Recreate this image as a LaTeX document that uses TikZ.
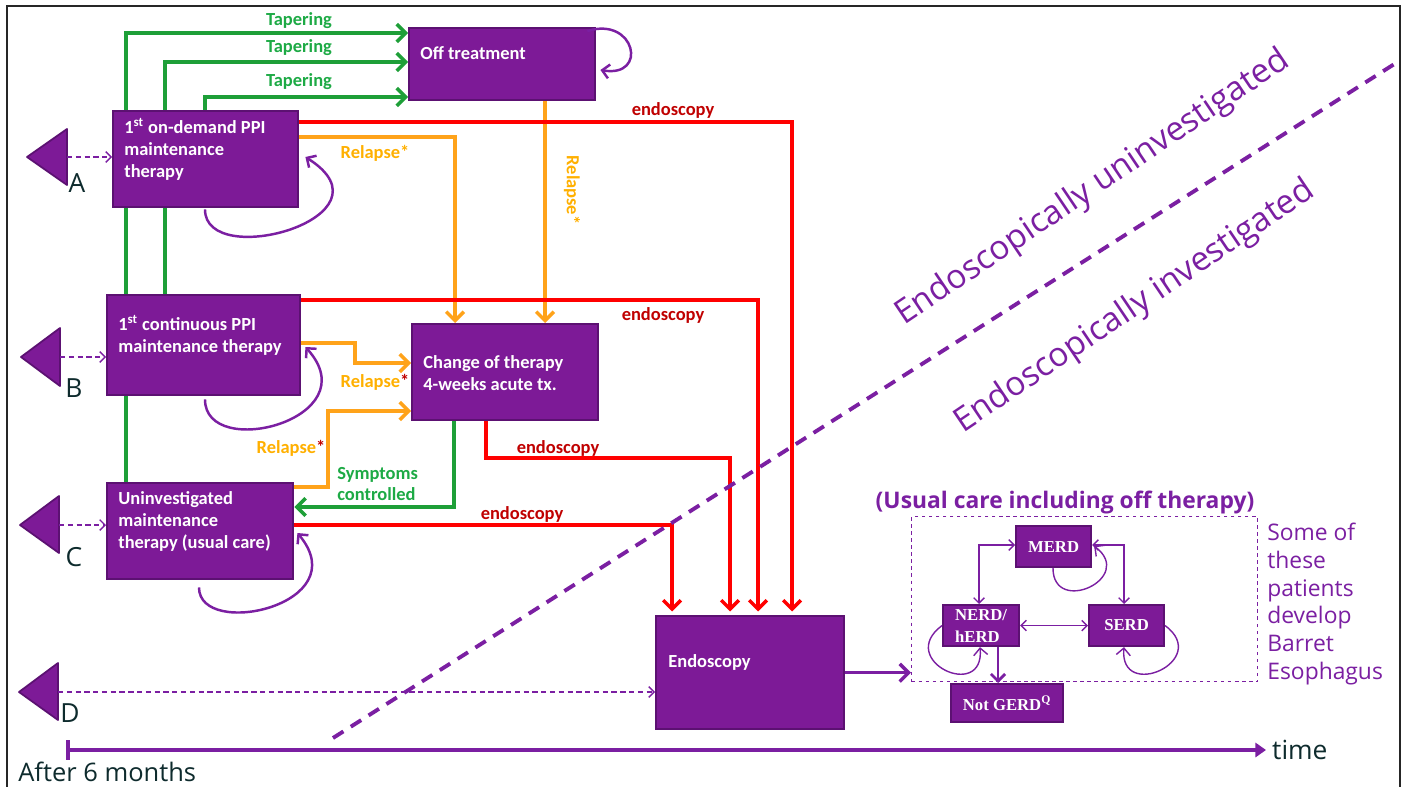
\documentclass[tikz,border=0pt]{standalone}
\usepackage{fontspec}
\setmainfont{Carlito}
\newfontfamily\opensans{Open Sans}
\newfontfamily\gerdfont{Liberation Serif}
\usepackage{xcolor}
\definecolor{BoxFill}{HTML}{7D1A97}
\definecolor{BoxLine}{HTML}{5C1172}
\definecolor{StatePurple}{HTML}{7B1FA2}
\definecolor{TaperGreen}{HTML}{1E9F38}
\definecolor{TaperText}{HTML}{1DAA45}
\definecolor{RelapseOrange}{HTML}{FFA31A}
\definecolor{RelapseText}{HTML}{FFB000}
\definecolor{EndoRed}{HTML}{FF0000}
\definecolor{EndoText}{HTML}{C00000}
\definecolor{LetterInk}{HTML}{0E2B2D}
\usepackage{tikz}
\usetikzlibrary{arrows.meta,backgrounds}

\begin{document}
\begin{tikzpicture}[x=0.02cm, y=-0.02cm,
	box/.style={draw=BoxLine, fill=BoxFill, line width=1.4pt, inner sep=0pt, anchor=north west},
	boxtext/.style={anchor=west, align=left, inner sep=0pt, text=white, font=\fontsize{10.5}{12.5}\selectfont\bfseries},
	statebox/.style={box, line width=1.2pt, text=white, align=left, font=\gerdfont\fontsize{9.5}{12.5}\selectfont\bfseries},
	taper/.style={TaperGreen, line width=2pt, -{Straight Barb[length=5pt,width=10pt]}},
	relapse/.style={RelapseOrange, line width=2pt, -{Straight Barb[length=5pt,width=10pt]}},
	toendo/.style={EndoRed, line width=2pt, shorten >=2pt, -{Straight Barb[length=5pt,width=10pt]}},
	entry/.style={StatePurple, line width=0.8pt, dash pattern=on 3pt off 2pt, -{Straight Barb[length=3pt,width=6pt]}},
	selfloop/.style={StatePurple, line width=1.4pt, -{Straight Barb[length=4pt,width=8pt]}},
	link/.style={StatePurple, line width=0.8pt, {Straight Barb[length=3pt,width=6pt]}-{Straight Barb[length=3pt,width=6pt]}},
	lbl/.style={font=\fontsize{10.5}{12.5}\selectfont\bfseries, inner sep=0pt},
	letter/.style={font=\opensans\fontsize{15}{18}\selectfont, text=LetterInk, inner sep=0pt},
	tri/.style={draw=BoxLine, fill=BoxFill, line width=1pt, line join=round}
	]
	\useasboundingbox (0,0) rectangle (1406,787);
	\draw[black!85, line width=1.2pt] (7,787) -- (7,6) -- (1400,6) -- (1400,787);

	\node[box, minimum width=3.72cm, minimum height=1.44cm] (offtr) at (408,27) {};
	\node[box, minimum width=3.70cm, minimum height=1.92cm] (ondemand) at (112,110) {};
	\node[box, minimum width=3.86cm, minimum height=2.00cm] (contin) at (106,294) {};
	\node[box, minimum width=3.72cm, minimum height=1.92cm] (change) at (411,323) {};
	\node[box, minimum width=3.72cm, minimum height=1.92cm] (uninv) at (106,482) {};
	\node[box, minimum width=3.76cm, minimum height=2.26cm] (endo) at (655,615) {};
	\node[boxtext] at ([shift={(12,-11)}]offtr.west) {Off treatment};
	\node[boxtext] at ([shift={(12,-10)}]ondemand.west) {1\textsuperscript{st} on-demand PPI\\maintenance\\therapy};
	\node[boxtext] at ([shift={(12,-10)}]contin.west) {1\textsuperscript{st} continuous PPI\\maintenance therapy};
	\node[boxtext] at ([shift={(12,1)}]change.west) {Change of therapy\\4-weeks acute tx.};
	\node[boxtext] at ([shift={(12,-10)}]uninv.west) {Uninvestigated\\maintenance\\therapy (usual care)};
	\node[boxtext] at ([shift={(13,-10)}]endo.west) {Endoscopy};

	\draw[tri] (67,129) -- (67,185) -- (27,157) -- cycle;
	\draw[tri] (60,328) -- (60,386) -- (21,357) -- cycle;
	\draw[tri] (59,496) -- (59,553) -- (20,525) -- cycle;
	\draw[tri] (58,663) -- (58,720) -- (19,692) -- cycle;
	\coordinate (tA) at (67,157);
	\coordinate (tB) at (60,357);
	\coordinate (tC) at (59,525);
	\coordinate (tD) at (58,692);
	\node[letter] at (77,183) {A};
	\node[letter] at (74,388) {B};
	\node[letter] at (74,557) {C};
	\node[letter] at (70,713) {D};
	\draw[entry] (tA) -- (tA -| ondemand.west);
	\draw[entry] (tB) -- (tB -| contin.west);
	\draw[entry] (tC) -- (tC -| uninv.west);
	\draw[entry] (tD) -- (tD -| endo.west);

	\coordinate (gOuter) at (126,33);
	\coordinate (gMid) at (165,62);
	\coordinate (gInner) at (205,97);
	\coordinate (gBack) at (454,507);
	\coordinate (oA) at (455,137);
	\coordinate (oB) at (545,200);
	\coordinate (oCa) at (355,343);
	\coordinate (oCb) at (355,363);
	\coordinate (oDa) at (328,487);
	\coordinate (oDb) at (328,411);
	\coordinate (rA) at (792,122);
	\coordinate (rB) at (758,300);
	\coordinate (rC) at (486,458);
	\coordinate (rCb) at (730,458);
	\coordinate (rD) at (672,525);
	\begin{pgfonlayer}{background}
		\fill[white] (0,0) rectangle (1406,787);
		\draw[taper] (uninv.north -| gOuter) |- (offtr.west |- gOuter);
		\draw[taper] (contin.north -| gMid) |- (offtr.west |- gMid);
		\draw[taper] (ondemand.north -| gInner) |- (offtr.west |- gInner);
		\draw[taper] (change.south -| gBack) |- (uninv.east |- gBack);
		\draw[relapse] (ondemand.east |- oA) -| (change.north -| oA);
		\draw[relapse] (offtr.south -| oB) -- (change.north -| oB);
		\draw[relapse] (contin.east |- oCa) -- (oCa) -- (oCb) -- (change.west |- oCb);
		\draw[relapse] (uninv.east |- oDa) -- (oDa) -- (oDb) -- (change.west |- oDb);
		\draw[toendo] (ondemand.east |- rA) -| (endo.north -| rA);
		\draw[toendo] (contin.east |- rB) -| (endo.north -| rB);
		\draw[toendo] (change.south -| rC) |- (rCb) -- (endo.north -| rCb);
		\draw[toendo] (uninv.east |- rD) -| (endo.north -| rD);
	\end{pgfonlayer}
	\node[lbl, text=TaperText] at (299,21) {Tapering};
	\node[lbl, text=TaperText] at (299,48) {Tapering};
	\node[lbl, text=TaperText] at (299,82) {Tapering};
	\node[lbl, text=TaperText, align=left, anchor=west] at (337,484) {Symptoms\\controlled};
	\node[lbl, text=RelapseText] at (375,153) {Relapse*};
	\node[lbl, text=RelapseText, rotate=-90] at (572,190) {Relapse*};
	\node[lbl, text=RelapseText] at (375,382) {Relapse{\color{EndoText}*}};
	\node[lbl, text=RelapseText] at (291,448) {Relapse{\color{EndoText}*}};
	\node[lbl, text=EndoText] at (673,110) {endoscopy};
	\node[lbl, text=EndoText] at (663,315) {endoscopy};
	\node[lbl, text=EndoText] at (558,448) {endoscopy};
	\node[lbl, text=EndoText] at (522,514) {endoscopy};

	\draw[selfloop] ([shift={(-9,4)}]offtr.north east) .. controls +(48,-15) and +(48,8) .. ([shift={(4,43)}]offtr.north east);
	\draw[selfloop] ([shift={(93,1)}]ondemand.south west) .. controls +(0,62) and +(95,60) .. ([shift={(6,47)}]ondemand.north east);
	\draw[selfloop] ([shift={(99,3)}]contin.south west) .. controls +(0,62) and +(65,72) .. ([shift={(4,53)}]contin.north east);
	\draw[selfloop] ([shift={(93,7)}]uninv.south west) .. controls +(0,52) and +(60,72) .. ([shift={(3,51)}]uninv.north east);

	\draw[StatePurple, line width=2.2pt, dash pattern=on 7pt off 5pt] (333,738) -- (1396,63);
	\node[font=\opensans\fontsize{19}{22}\selectfont, text=StatePurple, rotate=34] at (1093,188) {Endoscopically uninvestigated};
	\node[font=\opensans\fontsize{19}{22}\selectfont, text=StatePurple, rotate=34] at (1135,307) {Endoscopically investigated};

	\node[draw=StatePurple, line width=0.8pt, dash pattern=on 2pt off 2pt, minimum width=6.92cm, minimum height=3.30cm, anchor=north west] (usual) at (911,516) {};
	\node[font=\opensans\fontsize{13}{16}\selectfont\bfseries, text=StatePurple] at (1065,503) {(Usual care including off therapy)};
	\node[statebox, minimum width=1.50cm, minimum height=0.82cm] (MERD) at (1015,525) {MERD};
	\node[statebox, minimum width=1.52cm, minimum height=0.82cm] (NERD) at (942,604) {NERD/\\hERD};
	\node[statebox, minimum width=1.50cm, minimum height=0.82cm] (SERD) at (1088,604) {SERD};
	\node[statebox, minimum width=2.24cm, minimum height=0.76cm] (notGERD) at (950,683) {Not GERD\textsuperscript{Q}};
	\coordinate (mA) at (979,545);
	\coordinate (mB) at (1124,545);
	\coordinate (nG) at (998,660);
	\draw[link] (MERD.west |- mA) -| (NERD.north -| mA);
	\draw[link] (MERD.east |- mB) -| (SERD.north -| mB);
	\draw[link] (NERD.east) -- (SERD.west);
	\draw[StatePurple, line width=1.6pt, -{Straight Barb[length=4pt,width=8pt]}] (NERD.south -| nG) -- (notGERD.north -| nG);
	\draw[selfloop, line width=0.8pt] ([shift={(38,0)}]MERD.south west) .. controls +(0,48) and +(42,32) .. ([shift={(2,21)}]MERD.north east);
	\draw[selfloop, line width=0.8pt] (NERD.west) .. controls +(-47,35) and +(5,55) .. ([shift={(38,0)}]NERD.south west);
	\draw[selfloop, line width=0.8pt] (SERD.east) .. controls +(47,35) and +(-5,55) .. ([shift={(36,0)}]SERD.south west);
	\draw[StatePurple, line width=2pt, -{Straight Barb[length=5pt,width=10pt]}] (endo.east) -- (endo.east -| usual.west);
	\node[font=\opensans\fontsize{13}{15.8}\selectfont, text=StatePurple, align=left, anchor=west, inner sep=0pt] at (1267,604) {Some of\\these\\patients\\develop\\Barret\\Esophagus};

	\coordinate (t0) at (68,750);
	\node[font=\opensans\fontsize{15}{18}\selectfont, text=LetterInk, anchor=west] (timelbl) at (1266,750) {time};
	\draw[StatePurple, line width=2pt, -{Triangle[length=6pt,width=8pt]}] (t0) -- (timelbl.west);
	\draw[StatePurple, line width=2pt] (t0) ++(0,-10) -- ++(0,20);
	\node[font=\opensans\fontsize{14.5}{17}\selectfont, text=LetterInk, anchor=west, inner sep=0pt] at (18,772) {After 6 months};
\end{tikzpicture}
\end{document}
